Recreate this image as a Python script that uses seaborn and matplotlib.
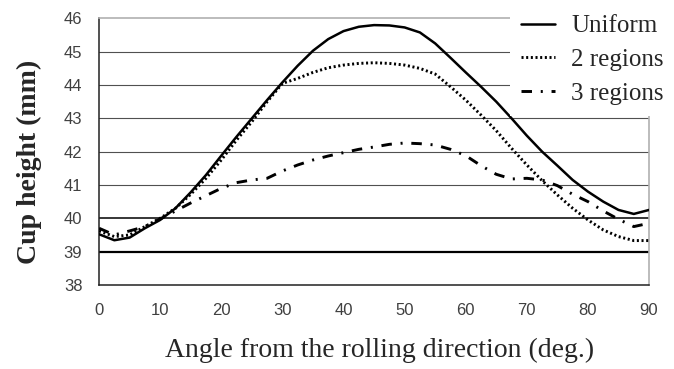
import numpy as np
import pandas as pd
import matplotlib
matplotlib.use("Agg")
import matplotlib.pyplot as plt
import seaborn as sns

# data
angle = [0, 2.5, 5, 7.5, 10, 12.5, 15, 17.5, 20, 22.5, 25, 27.5, 30, 32.5, 35, 37.5,
         40, 42.5, 45, 47.5, 50, 52.5, 55, 57.5, 60, 62.5, 65, 67.5, 70, 72.5, 75,
         77.5, 80, 82.5, 85, 87.5, 90]
uniform = [39.52, 39.34, 39.42, 39.70, 39.95, 40.30, 40.78, 41.30, 41.88, 42.45,
           43.00, 43.55, 44.08, 44.58, 45.03, 45.38, 45.62, 45.75, 45.80, 45.79,
           45.73, 45.58, 45.25, 44.82, 44.38, 43.95, 43.50, 43.00, 42.48, 42.00,
           41.58, 41.15, 40.80, 40.50, 40.25, 40.13, 40.25]
two_regions = [39.62, 39.45, 39.50, 39.75, 40.00, 40.30, 40.72, 41.20, 41.75, 42.35,
               42.90, 43.50, 44.05, 44.20, 44.38, 44.52, 44.60, 44.65, 44.67, 44.65,
               44.60, 44.50, 44.33, 43.95, 43.55, 43.10, 42.63, 42.10, 41.60, 41.13,
               40.70, 40.30, 39.95, 39.65, 39.45, 39.33, 39.33]
three_regions = [39.70, 39.50, 39.62, 39.75, 39.98, 40.22, 40.46, 40.68, 40.90, 41.07,
                 41.15, 41.20, 41.42, 41.60, 41.75, 41.87, 41.97, 42.07, 42.14, 42.22,
                 42.26, 42.24, 42.20, 42.07, 41.88, 41.58, 41.32, 41.18, 41.20, 41.15,
                 40.98, 40.72, 40.50, 40.22, 39.97, 39.75, 39.85]
series_names = ["Uniform", "2 regions", "3 regions"]
y_ticks = [38, 39, 40, 41, 42, 43, 44, 45, 46]
x_ticks = [0, 10, 20, 30, 40, 50, 60, 70, 80, 90]

df = pd.DataFrame({
    "angle": angle * 3,
    "height": uniform + two_regions + three_regions,
    "series": np.repeat(series_names, len(angle)),
})

sns.set_style("white")
plt.rcParams["font.family"] = ["Liberation Sans", "DejaVu Sans"]

fig = plt.figure(figsize=(6.74, 3.69), dpi=100)
ax = fig.add_axes([0.147, 0.228, 0.816, 0.722])

# horizontal grid lines
for v in y_ticks[1:-1]:
    if v == 39:
        ax.axhline(v, color="black", lw=1.6, zorder=1)
    elif v == 40:
        ax.axhline(v, color="black", lw=1.1, zorder=1)
    else:
        ax.axhline(v, color="#505050", lw=0.8, zorder=1)

dash_styles = {"Uniform": "", "2 regions": (0.7, 0.9), "3 regions": (3.6, 3.0, 0.7, 3.0)}
sns.lineplot(data=df, x="angle", y="height", style="series", style_order=series_names,
             dashes=dash_styles, color="black", lw=1.8, sort=False, ax=ax, zorder=3)
# dotted and dash-dot lines are a bit heavier in the original
for ln in ax.get_lines():
    if ln.get_linestyle() != "-":
        ln.set_linewidth(2.1)

ax.set_xlim(0, 90)
ax.set_ylim(38, 46)
ax.set_xticks(x_ticks)
ax.set_yticks(y_ticks)
ax.tick_params(axis="x", direction="in", length=6, width=1, color="#333333",
               pad=13, labelsize=12, labelcolor="#404040")
ax.tick_params(axis="y", length=0, pad=12, labelsize=12, labelcolor="#404040")

for side in ["left", "bottom"]:
    ax.spines[side].set_color("#222222")
    ax.spines[side].set_linewidth(1.1)
for side in ["top", "right"]:
    ax.spines[side].set_color("#b0b0b0")
    ax.spines[side].set_linewidth(1.2)

ax.set_xlabel("Angle from the rolling direction (deg.)", family="Liberation Serif",
              fontsize=20)
ax.set_ylabel("Cup height (mm)", family="Liberation Serif", fontsize=20,
              fontweight="bold")
ax.xaxis.set_label_coords(0.51, -0.2)
ax.yaxis.set_label_coords(-0.104, 0.46)

handles, labels = ax.get_legend_handles_labels()
for h in handles:
    if h.get_linestyle() != "-":
        h.set_linewidth(2.1)
leg = ax.legend(handles, labels, loc="upper left", bbox_to_anchor=(0.757, 0.99),
                bbox_transform=fig.transFigure, borderaxespad=0, frameon=True,
                fancybox=False, facecolor="white", edgecolor="none", framealpha=1,
                prop={"family": "Liberation Serif", "size": 18},
                handlelength=1.36, handletextpad=0.64, labelspacing=0.45,
                borderpad=0.45)
leg.set_title(None)

fig.savefig("out.png", dpi=100)
